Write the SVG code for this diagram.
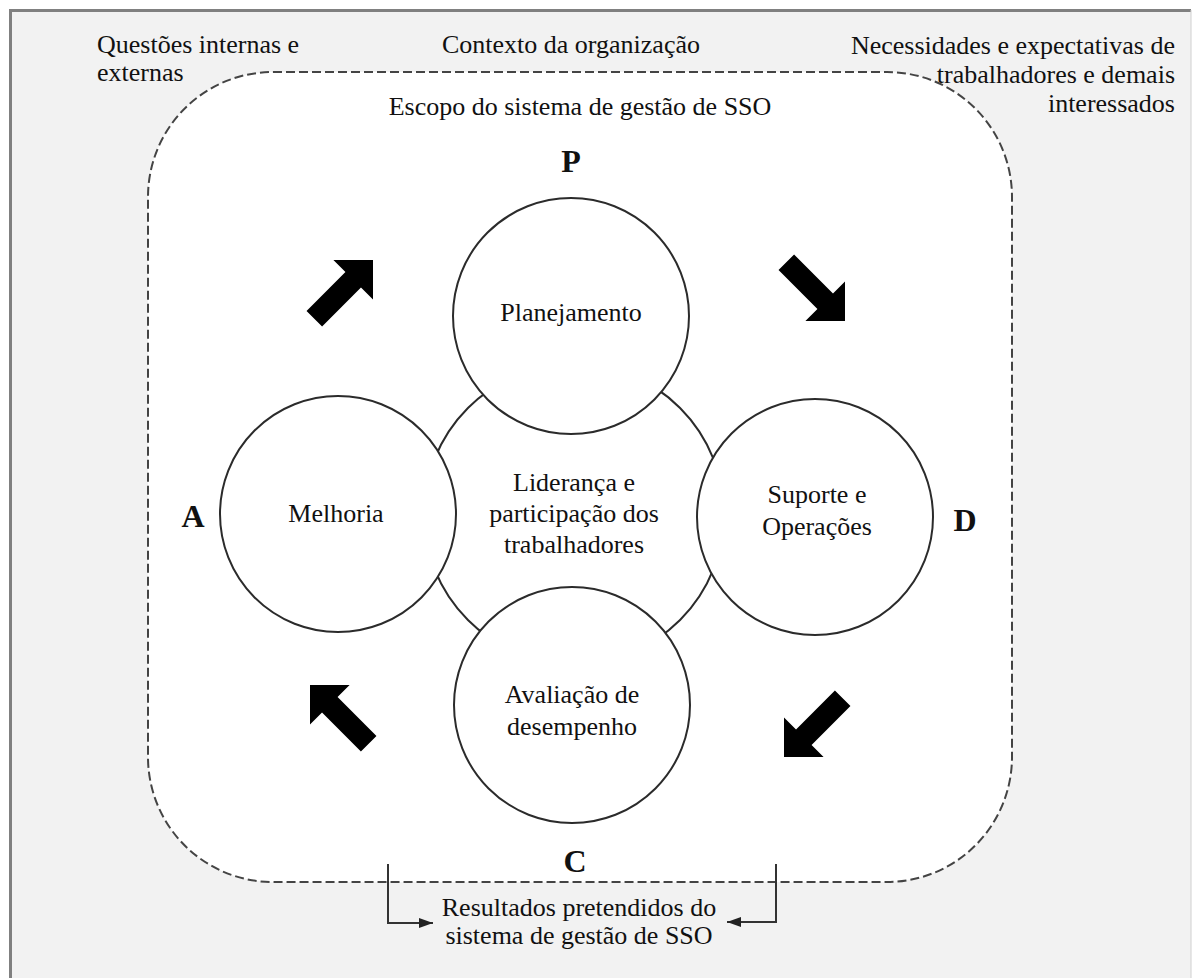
<svg xmlns="http://www.w3.org/2000/svg" xmlns:xlink="http://www.w3.org/1999/xlink" width="1192" height="978" viewBox="0 0 1192 978">
  <defs>
    <style>
      .txt { font-family: "Liberation Serif", "Times New Roman", serif; font-size: 26px; fill: #111; }
      .mid { text-anchor: middle; }
      .end { text-anchor: end; }
      .phase { font-family: "Liberation Serif", "Times New Roman", serif; font-size: 32px; font-weight: bold; fill: #111; text-anchor: middle; }
      .circle { fill: #ffffff; stroke: #2b2b2b; stroke-width: 2; }
      .scope { fill: #ffffff; stroke: #444; stroke-width: 2; stroke-dasharray: 9 4; }
      .link { fill: none; stroke: #333; stroke-width: 2; }
    </style>
    <!-- block arrow pointing along +x with its tip at the origin -->
    <path id="bigArrow" d="M0,0 L-28,-28 L-28,-11 L-83,-11 L-83,11 L-28,11 L-28,28 Z" fill="#000"/>
    <marker id="tip" viewBox="0 0 14 10" refX="14" refY="5" markerWidth="14" markerHeight="10" markerUnits="userSpaceOnUse" orient="auto">
      <path d="M0,0 L14,5 L0,10 Z" fill="#222"/>
    </marker>
  </defs>

  <!-- page background and frame -->
  <rect x="0" y="0" width="1192" height="978" fill="#ffffff"/>
  <rect x="10" y="10" width="1181" height="980" fill="#f2f2f2"/>
  <path d="M10.5,990 V10.5 H1191" fill="none" stroke="#808080" stroke-width="3"/>
  <line x1="1191" y1="10" x2="1191" y2="978" stroke="#d0d0d0" stroke-width="1"/>

  <!-- context labels -->
  <g id="context">
    <text class="txt" x="97" y="53">Questões internas e</text>
    <text class="txt" x="97" y="81">externas</text>
    <text class="txt mid" x="571" y="53">Contexto da organização</text>
    <text class="txt end" x="1175" y="54">Necessidades e expectativas de</text>
    <text class="txt end" x="1175" y="83">trabalhadores e demais</text>
    <text class="txt end" x="1175" y="112">interessados</text>
  </g>

  <!-- scope boundary -->
  <g id="scope">
    <rect class="scope" x="148" y="72" width="864" height="810" rx="125" ry="125"/>
    <text class="txt mid" x="580" y="115">Escopo do sistema de gestão de SSO</text>
  </g>

  <!-- central leadership circle -->
  <g id="leadership">
    <circle class="circle" cx="574" cy="514" r="150"/>
  </g>

  <g id="planning">
    <circle class="circle" cx="571" cy="316" r="118"/>
    <text class="txt mid" x="571" y="321">Planejamento</text>
  </g>

  <g id="improvement">
    <circle class="circle" cx="338" cy="514" r="118"/>
    <text class="txt mid" x="336" y="522">Melhoria</text>
  </g>

  <g id="support">
    <circle class="circle" cx="815" cy="517" r="118"/>
    <text class="txt mid" x="817" y="503">Suporte e</text>
    <text class="txt mid" x="817" y="535">Operações</text>
  </g>

  <g id="evaluation">
    <circle class="circle" cx="572" cy="705" r="118"/>
    <text class="txt mid" x="572" y="703">Avaliação de</text>
    <text class="txt mid" x="572" y="735">desempenho</text>
  </g>

  <g id="leadership-label">
    <text class="txt mid" x="574" y="491">Liderança e</text>
    <text class="txt mid" x="574" y="522">participação dos</text>
    <text class="txt mid" x="574" y="553">trabalhadores</text>
  </g>

  <!-- PDCA letters -->
  <g id="pdca">
    <text class="phase" x="571" y="172">P</text>
    <text class="phase" x="965" y="531">D</text>
    <text class="phase" x="575" y="872">C</text>
    <text class="phase" x="193" y="527">A</text>
  </g>

  <!-- cycle arrows -->
  <g id="cycle-arrows">
    <use xlink:href="#bigArrow" transform="translate(373,260) rotate(-45)"/>
    <use xlink:href="#bigArrow" transform="translate(845,321) rotate(45)"/>
    <use xlink:href="#bigArrow" transform="translate(784,757) rotate(135)"/>
    <use xlink:href="#bigArrow" transform="translate(310,685) rotate(-135)"/>
  </g>

  <!-- outcome connectors -->
  <g id="connectors">
    <path class="link" d="M388,864 V923 H433" marker-end="url(#tip)"/>
    <path class="link" d="M776,864 V922 H727" marker-end="url(#tip)"/>
  </g>

  <g id="outcomes">
    <text class="txt mid" x="579" y="916">Resultados pretendidos do</text>
    <text class="txt mid" x="579" y="944">sistema de gestão de SSO</text>
  </g>
</svg>
